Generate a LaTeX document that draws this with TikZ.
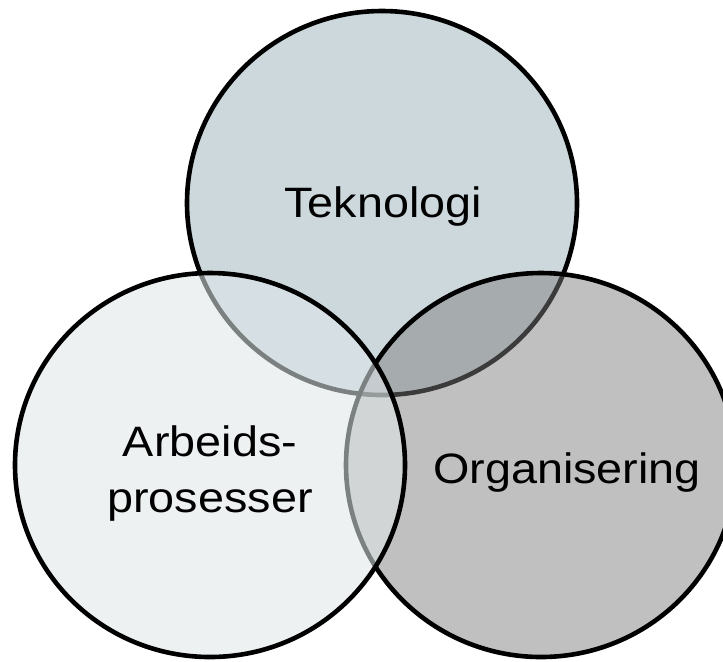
\documentclass[tikz,border=0pt]{standalone}
\usepackage{fontspec}
\setmainfont{Liberation Sans}
\tikzset{>=latex}
\definecolor{teknofarge}{RGB}{205,216,221}
\definecolor{arbeidsfarge}{RGB}{222,230,232}
\definecolor{orgfarge}{RGB}{124,124,124}
\tikzset{krets/.style={line width=2.3pt, draw=black}}
\tikzset{etikett/.style={font=\fontsize{21.25}{28}\selectfont, align=center, xscale=1.1, inner sep=0pt}}

\begin{document}
\begin{tikzpicture}[x=0.5pt,y=-0.5pt]
	\useasboundingbox (0,0) rectangle (723,661);

	\coordinate (tekno) at (382,203);
	\coordinate (org) at (541,465);
	\coordinate (arbeid) at (210,465);

	% sirkler
	\draw[krets][fill=teknofarge](tekno) ellipse [x radius=195, y radius=192];
	\draw[krets][fill=orgfarge, fill opacity=0.48](org) ellipse [x radius=195, y radius=192];
	\draw[krets][fill=arbeidsfarge, fill opacity=0.556](arbeid) ellipse [x radius=195, y radius=192];

	% tekst
	\node[etikett, anchor=base] (teknologi) at (383,217) {Teknologi};
	\node[etikett] (arbeidsprosesser) at (210,473) {Arbeids-\\prosesser};
	\node[etikett, anchor=base] (organisering) at (567,483) {Organisering};
\end{tikzpicture}
\end{document}
